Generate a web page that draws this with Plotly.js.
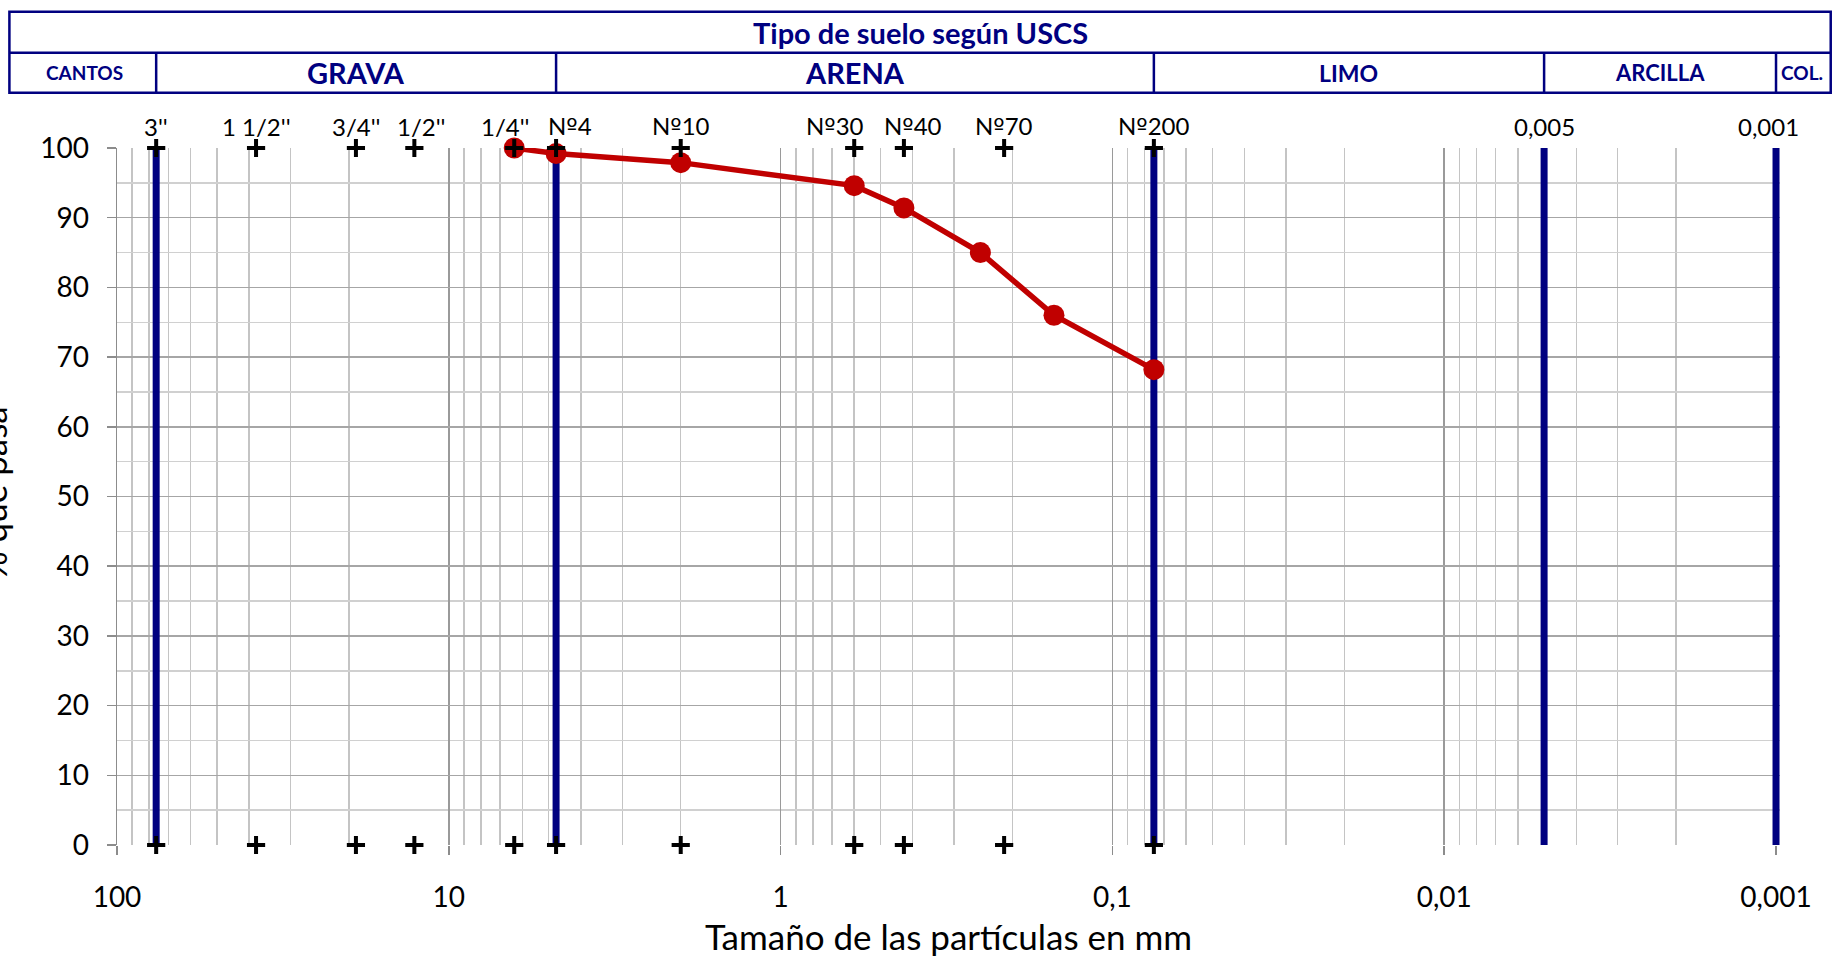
<!DOCTYPE html>
<html>
<head>
<meta charset="utf-8">
<script src="https://cdn.plot.ly/plotly-3.0.1.min.js"></script>
<style>
  html, body { margin: 0; padding: 0; background: #ffffff; }
  #chart { width: 1840px; height: 957px; }
</style>
</head>
<body>
<div id="chart"></div>
<script>
// ---- Data ----
const tamizNombres = ["3''", "1 1/2''", "3/4''", "1/2''", "1/4''", "Nº4", "Nº10", "Nº30", "Nº40", "Nº70", "Nº200"];
const tamizAberturas = [76.2, 38.1, 19.05, 12.7, 6.35, 4.75, 2.0, 0.6, 0.425, 0.212, 0.075];
const limitesUSCS = [76.2, 4.75, 0.075, 0.005, 0.001];
const limitesEtiquetas = ["0,005", "0,001"];
const limitesEtiquetasValores = [0.005, 0.001];
const suelos = ["CANTOS", "GRAVA", "ARENA", "LIMO", "ARCILLA", "COL."];
const muestraTamano = [6.35, 4.75, 2.0, 0.6, 0.425, 0.25, 0.15, 0.075];
const muestraPasa = [100, 99.2, 97.9, 94.6, 91.4, 85.0, 76.0, 68.2];
const xTickVals = [100, 10, 1, 0.1, 0.01, 0.001];
const xTickText = ["100", "10", "1", "0,1", "0,01", "0,001"];
const yTickVals = [0, 10, 20, 30, 40, 50, 60, 70, 80, 90, 100];

// ---- Styles ----
const FONT = "Lato, 'Open Sans', sans-serif";
const NAVY = "#000080";
const RED = "#C00000";
// label nudges (px) to avoid overlapping labels, as in the original
const labelShift = {"1/2''": 7, "1/4''": -9, "Nº4": 14, "Nº30": -19, "Nº40": 9, "0,001": -8};
const fmtLabel = s => s.replace("º", "<span style=\"font-family:'DejaVu Sans'\">º</span>");

// ---- Traces ----
const limX = [], limY = [];
limitesUSCS.forEach(v => { limX.push(v, v, null); limY.push(0, 100, null); });

const traces = [
  { x: limX, y: limY, mode: "lines", line: { color: NAVY, width: 7 },
    hoverinfo: "skip", showlegend: false, cliponaxis: false },
  { x: muestraTamano, y: muestraPasa, mode: "lines+markers",
    line: { color: RED, width: 5.5 }, marker: { color: RED, size: 21 },
    showlegend: false, cliponaxis: false },
  { x: tamizAberturas.concat(tamizAberturas),
    y: tamizAberturas.map(() => 100).concat(tamizAberturas.map(() => 0)),
    mode: "markers",
    marker: { symbol: "cross-thin-open", size: 13, color: "#000", line: { color: "#000", width: 4 } },
    hoverinfo: "skip", showlegend: false, cliponaxis: false }
];

// ---- Header geometry (paper coords) ----
const hdrTop = 1.1955, hdrMid = 1.1366, hdrBot = 1.0793;
const hdrLeft = -0.0647, hdrRight = 1.0305;

const shapes = [
  { type: "rect", xref: "paper", yref: "paper", x0: hdrLeft, x1: hdrRight, y0: hdrBot, y1: hdrTop,
    line: { color: NAVY, width: 2.5 } },
  { type: "line", xref: "paper", yref: "paper", x0: hdrLeft, x1: hdrRight, y0: hdrMid, y1: hdrMid,
    line: { color: NAVY, width: 2.5 } }
];
limitesUSCS.forEach(v => {
  shapes.push({ type: "line", xref: "x", yref: "paper", x0: v, x1: v, y0: hdrBot, y1: hdrMid,
    line: { color: NAVY, width: 2.5 } });
});

const annotations = [];
annotations.push({ text: "<b>Tipo de suelo según USCS</b>", xref: "paper", yref: "paper",
  x: (hdrLeft + hdrRight) / 2, y: (hdrTop + hdrMid) / 2, showarrow: false,
  xanchor: "center", yanchor: "middle", font: { family: FONT, size: 29, color: NAVY } });

const lg = limitesUSCS.map(v => Math.log10(v));
const hdrSizes = [19, 29, 29, 23, 22, 19];
suelos.forEach((s, i) => {
  let ann = { text: "<b>" + s + "</b>", yref: "paper", y: (hdrMid + hdrBot) / 2, showarrow: false,
    xanchor: "center", yanchor: "middle", font: { family: FONT, size: hdrSizes[i], color: NAVY } };
  if (i === 0) { ann.xref = "paper"; ann.x = -0.0198; }
  else if (i === suelos.length - 1) { ann.xref = "paper"; ann.x = 1.0135; }
  else { ann.xref = "x"; ann.x = (lg[i - 1] + lg[i]) / 2; }
  annotations.push(ann);
});

const topNames = tamizNombres.concat(limitesEtiquetas);
const topVals = tamizAberturas.concat(limitesEtiquetasValores);
topNames.forEach((n, i) => {
  annotations.push({ text: fmtLabel(n), xref: "x", yref: "y", x: Math.log10(topVals[i]), y: 100,
    xanchor: "center", yanchor: "bottom", yshift: 5, xshift: labelShift[n] || 0, showarrow: false,
    font: { family: FONT, size: 24, color: "#000" } });
});

annotations.push({ text: "% que pasa", xref: "paper", yref: "paper", x: -0.0605, y: 0.505,
  xanchor: "right", yanchor: "middle", textangle: -90, showarrow: false,
  font: { family: FONT, size: 35, color: "#000" } });

const layout = {
  width: 1840, height: 957,
  margin: { l: 117, r: 60, t: 148, b: 112 },
  paper_bgcolor: "#ffffff", plot_bgcolor: "#ffffff",
  font: { family: FONT, color: "#000" },
  showlegend: false,
  xaxis: {
    type: "log", range: [2, -3.012],
    tickmode: "array", tickvals: xTickVals, ticktext: xTickText,
    tickfont: { family: FONT, size: 28, color: "#000" },
    ticks: "outside", ticklen: 9, tickcolor: "#8c8c8c", tickwidth: 1.5,
    ticklabelstandoff: 18,
    showgrid: true, gridcolor: "#9a9a9a", gridwidth: 1.5,
    minor: { dtick: "D1", showgrid: true, gridcolor: "#c4c4c4", gridwidth: 1.5, ticks: "" },
    showline: false,
    zeroline: false,
    title: { text: "Tamaño de las partículas en mm", font: { family: FONT, size: 35, color: "#000" }, standoff: 18 }
  },
  yaxis: {
    range: [0, 100],
    tickmode: "array", tickvals: yTickVals,
    tickfont: { family: FONT, size: 28, color: "#000" },
    ticks: "outside", ticklen: 9, tickcolor: "#8c8c8c", tickwidth: 1.5,
    ticklabelstandoff: 12,
    showgrid: true, gridcolor: "#a6a6a6", gridwidth: 1.5,
    minor: { dtick: 5, showgrid: true, gridcolor: "#d0d0d0", gridwidth: 1.5, ticks: "" },
    showline: true, linecolor: "#8c8c8c", linewidth: 1.5,
    zeroline: false
  },
  shapes: shapes,
  annotations: annotations
};

Plotly.newPlot("chart", traces, layout, { displayModeBar: false, staticPlot: true });
</script>
</body>
</html>
